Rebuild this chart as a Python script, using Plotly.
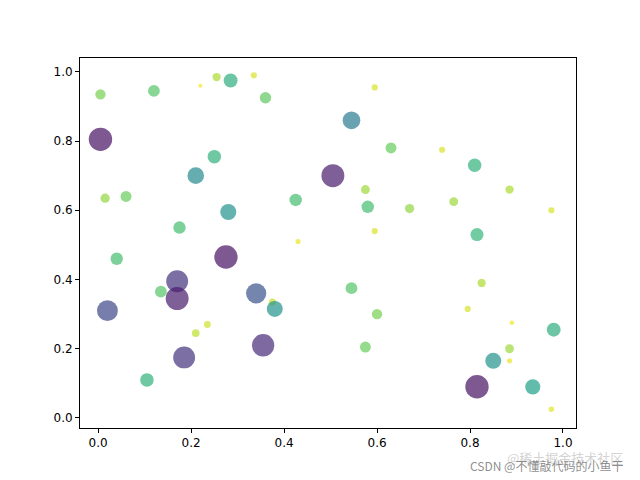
import plotly.graph_objects as go

x = [0.005, 0.02, 0.005, 0.015, 0.04, 0.06, 0.105, 0.12, 0.135, 0.17, 0.17, 0.175, 0.185, 0.21,
     0.21, 0.22, 0.235, 0.25, 0.255, 0.275, 0.28, 0.285, 0.335, 0.34, 0.355, 0.36, 0.375, 0.38,
     0.425, 0.43, 0.505, 0.545, 0.545, 0.575, 0.575, 0.58, 0.595, 0.595, 0.6, 0.63, 0.67, 0.74,
     0.765, 0.795, 0.81, 0.815, 0.815, 0.825, 0.85, 0.885, 0.885, 0.885, 0.89, 0.935, 0.975,
     0.975, 0.98]
y = [0.805, 0.31, 0.935, 0.635, 0.46, 0.64, 0.11, 0.945, 0.365, 0.395, 0.345, 0.55, 0.175, 0.70,
     0.245, 0.96, 0.27, 0.755, 0.985, 0.465, 0.595, 0.975, 0.99, 0.36, 0.21, 0.925, 0.335, 0.315,
     0.63, 0.51, 0.70, 0.86, 0.375, 0.205, 0.66, 0.61, 0.955, 0.54, 0.30, 0.78, 0.605, 0.775,
     0.625, 0.315, 0.73, 0.09, 0.53, 0.39, 0.165, 0.66, 0.20, 0.165, 0.275, 0.09, 0.6,
     0.025, 0.255]
# relative size (0..1); colour follows size
s = [0.97, 0.85, 0.35, 0.3, 0.45, 0.38, 0.5, 0.42, 0.42, 0.9, 0.95, 0.45, 0.9, 0.65,
     0.22, 0.05, 0.18, 0.5, 0.25, 0.97, 0.62, 0.52, 0.15, 0.82, 0.92, 0.4, 0.2, 0.62,
     0.45, 0.1, 0.95, 0.7, 0.42, 0.38, 0.28, 0.45, 0.15, 0.15, 0.35, 0.38, 0.3, 0.15,
     0.28, 0.15, 0.5, 0.97, 0.48, 0.25, 0.62, 0.25, 0.28, 0.1, 0.08, 0.58, 0.15,
     0.12, 0.52]

fig = go.Figure(go.Scatter(
    x=x, y=y, mode='markers',
    marker=dict(size=[3 + 21 * v for v in s], color=[1 - v ** 1.5 for v in s],
                colorscale='Viridis', cmin=0, cmax=1, opacity=0.7, line=dict(width=0)),
    showlegend=False))

axis = dict(showgrid=False, zeroline=False, showline=True, mirror=True, linecolor='black',
            ticks='outside', ticklen=4, tickcolor='black', tickformat='.1f', dtick=0.2)
fig.update_layout(
    width=640, height=480, plot_bgcolor='white', paper_bgcolor='white',
    margin=dict(l=72, r=72, t=50, b=60),
    font=dict(family='DejaVu Sans', size=12, color='black'),
    xaxis=dict(axis, range=[-0.039, 1.028]),
    yaxis=dict(axis, range=[-0.029, 1.040]),
)
fig.add_annotation(text='@稀土掘金技术社区', xref='paper', yref='paper', x=1.099, y=-0.081,
                   xanchor='right', yanchor='middle', showarrow=False,
                   font=dict(family='Noto Sans CJK SC', size=13, color='rgba(200,200,200,0.8)'))
fig.add_annotation(text='CSDN @不懂敲代码的小鱼干', xref='paper', yref='paper', x=1.099, y=-0.1,
                   xanchor='right', yanchor='middle', showarrow=False,
                   font=dict(family='Noto Sans CJK SC', size=12, color='rgba(120,120,120,0.85)'))
fig.write_html('out.html')
